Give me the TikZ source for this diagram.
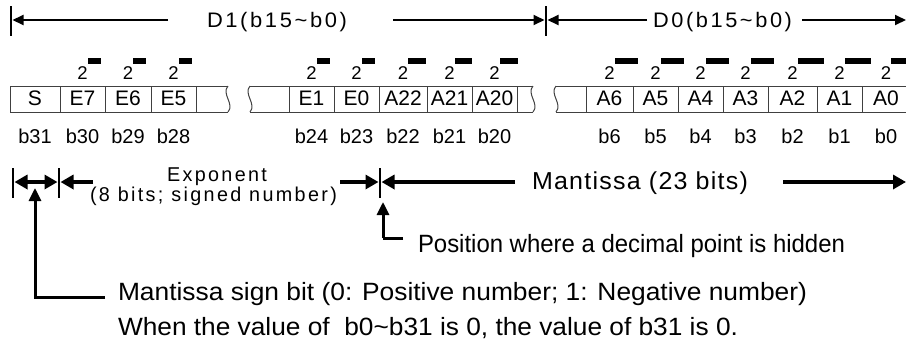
\documentclass[tikz,border=0pt]{standalone}
\usepackage{fontspec}
\setmainfont{Liberation Sans}
\usepackage{graphicx}
\usetikzlibrary{arrows.meta}
\newfontfamily\spacedfont[LetterSpace=12]{Liberation Sans}
\newfontfamily\lightspaced[LetterSpace=5]{Liberation Sans}
\newcommand\fitw[2]{\resizebox{#1pt}{\height}{#2}}
\begin{document}
\begin{tikzpicture}[x=1pt,y=-1pt,
  lbl/.style={inner sep=0pt, outer sep=0pt, anchor=base},
  txt/.style={inner sep=0pt, outer sep=0pt, anchor=base west},
  thinarrow/.style={line width=2pt, -{Triangle[length=11pt,width=10pt]}},
  tickline/.style={line width=2.5pt},
  thickarrow/.style={line width=4.5pt, -{Triangle[length=13pt,width=14pt]}},
  thickboth/.style={line width=4.5pt, {Triangle[length=13pt,width=14pt]}-{Triangle[length=13pt,width=14pt]}},
  leader/.style={line width=3pt},
  cellline/.style={line width=1pt, draw=black!75},
  expbar/.style={fill=black, draw=none},
  f18/.style={font=\fontsize{18.5}{20}\selectfont},
  f20/.style={font=\fontsize{20}{22}\selectfont},
  f21/.style={font=\fontsize{21}{23}\selectfont},
  fbig/.style={font=\fontsize{25}{27}\selectfont},
]
\useasboundingbox (0,0) rectangle (906,346);

% ---------- top row: D1 / D0 ----------
\coordinate (tkLa) at (11,6);  \coordinate (tkLb) at (11,36);
\coordinate (tkMa) at (546,6); \coordinate (tkMb) at (546,36);
\draw[tickline] (tkLa) -- (tkLb);
\draw[tickline] (tkMa) -- (tkMb);
\coordinate (a1s) at (168,20); \coordinate (a1e) at (12.5,20);
\coordinate (a2s) at (393,20); \coordinate (a2e) at (544.5,20);
\coordinate (a3s) at (647,20); \coordinate (a3e) at (547.5,20);
\coordinate (a4s) at (802,20); \coordinate (a4e) at (906,20);
\draw[thinarrow] (a1s) -- (a1e);
\draw[thinarrow] (a2s) -- (a2e);
\draw[thinarrow] (a3s) -- (a3e);
\draw[thinarrow] (a4s) -- (a4e);
\node[txt,f21] (d1) at (207,27.5) {\fitw{140}{\spacedfont D1(b15\textasciitilde b0)}};
\node[txt,f21] (d0) at (653,27.5) {\fitw{139}{\spacedfont D0(b15\textasciitilde b0)}};

% ---------- register cells ----------
\draw[cellline] (228,86) -- (10,86) -- (10,112) -- (228,112);
\draw[cellline] (228,86) .. controls (221,94) and (235,104) .. (228,112);
\draw[cellline] (533,86) -- (250,86);
\draw[cellline] (250,112) -- (533,112);
\draw[cellline] (250,86) .. controls (243,94) and (257,104) .. (250,112);
\draw[cellline] (533,86) .. controls (526,94) and (540,104) .. (533,112);
\draw[cellline] (906,86) -- (556,86);
\draw[cellline] (556,112) -- (906,112);
\draw[cellline] (556,86) .. controls (549,94) and (563,104) .. (556,112);
\foreach \x in {60,105,151,196,289,334,379,427,472,517,586,633,678,723,768,817,862}
  \draw[cellline] (\x,86) -- (\x,112);

\foreach \cx/\nm/\bb [count=\i] in {35/S/b31,82.5/E7/b30,128/E6/b29,173.5/E5/b28,311.5/E1/b24,356.5/E0/b23,403/A22/b22,449.5/A21/b21,494.5/A20/b20,609.5/A6/b6,655.5/A5/b5,700.5/A4/b4,745.5/A3/b3,792.5/A2/b2,839.5/A1/b1,886/A0/b0}{
  \node[lbl,f21] (cell\i) at (\cx,105.5) {\nm};
  \node[lbl,f20] (bit\i) at (\cx,143) {\bb};
}
\foreach \cx/\bl [count=\i] in {82.5/13,128/13,173.5/13,311.5/13,356.5/13,403/18,449.5/17,494.5/18,609.5/23,655.5/23,700.5/23,745.5/23,792.5/26,839.5/26,886/26}{
  \node[lbl,f18] (two\i) at (\cx,79) {2};
  \fill[expbar] (\cx+5,58) rectangle (\cx+5+\bl,63.5);
}

% ---------- exponent / mantissa arrows ----------
\coordinate (sLa) at (13,168); \coordinate (sLb) at (13,198);
\coordinate (sRa) at (59,168); \coordinate (sRb) at (59,198);
\coordinate (pa) at (380,168); \coordinate (pb) at (380,198);
\draw[tickline] (sLa) -- (sLb);
\draw[tickline] (sRa) -- (sRb);
\draw[tickline] (pa) -- (pb);
\coordinate (sg1) at (14.5,182); \coordinate (sg2) at (57.5,182);
\draw[thickboth] (sg1) -- (sg2);
\coordinate (ex1) at (93,182); \coordinate (ex2) at (60.5,182);
\draw[thickarrow] (ex1) -- (ex2);
\coordinate (ex3) at (340,182); \coordinate (ex4) at (378.5,182);
\draw[thickarrow] (ex3) -- (ex4);
\coordinate (m1) at (515,182); \coordinate (m2) at (381.5,182);
\draw[thickarrow] (m1) -- (m2);
\coordinate (m3) at (783,182); \coordinate (m4) at (906,182);
\draw[thickarrow] (m3) -- (m4);

\node[txt,f20] (expo) at (167,181) {\fitw{100}{\spacedfont Exponent}};
\node[txt,f20] (expb) at (90,201) {\fitw{247}{\spacedfont (8 bits; signed number)}};
\node[txt,font=\fontsize{24.5}{27}\selectfont] (mant) at (532,189.5) {\fitw{216}{\lightspaced Mantissa (23 bits)}};

% ---------- leaders ----------
\coordinate (up1) at (35,188); \coordinate (c1) at (35,297); \coordinate (e1) at (105,297);
\draw[leader] (e1) -- (c1) -- (35,200);
\draw[line width=3pt,-{Triangle[length=13pt,width=12pt]}] (c1) -- (up1);
\coordinate (up2) at (383,202); \coordinate (c2) at (383,238); \coordinate (e2) at (403,238);
\draw[leader] (e2) -- (c2);
\draw[line width=3pt,-{Triangle[length=13pt,width=12pt]}] (c2) -- (up2);

\node[txt,fbig] (pos) at (418,252) {\fitw{427}{Position where a decimal point is hidden}};
\node[txt,fbig] (sgn) at (118,300) {\fitw{689}{Mantissa sign bit (0: Positive number; 1: Negative number)}};
\node[txt,fbig] (zero) at (118,335) {\fitw{620}{When the value of\ \ b0\textasciitilde b31 is 0, the value of b31 is 0.}};
\end{tikzpicture}
\end{document}
